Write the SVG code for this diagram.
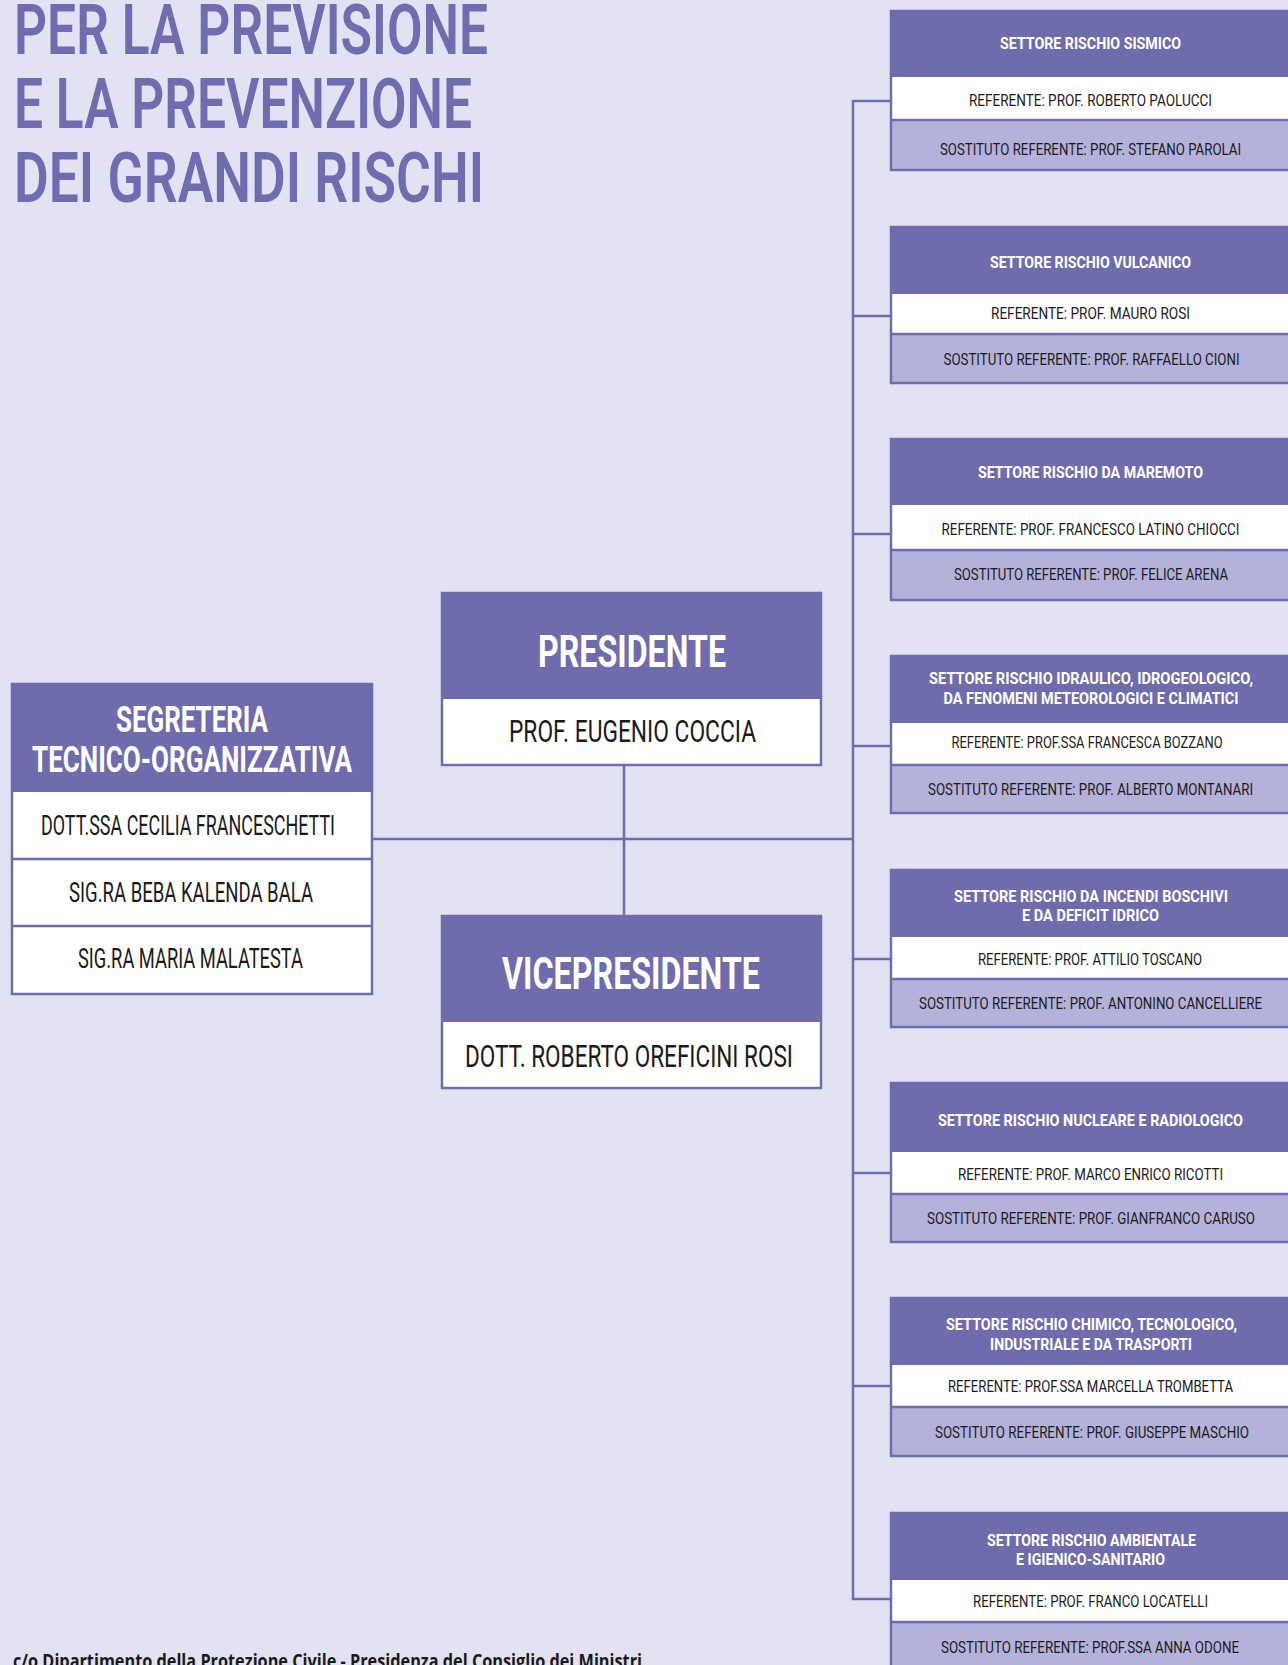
<svg xmlns="http://www.w3.org/2000/svg" width="1288" height="1665" viewBox="0 0 1288 1665">
<style>
.bg{fill:#e3e2f2}
.hdr{fill:#6f6cae}
.wr{fill:#ffffff}
.lr{fill:#b4b2db}
.ol{fill:none;stroke:#6f6cae;stroke-width:2.5}
.sep{stroke:#6f6cae;stroke-width:2.5}
.ln{fill:none;stroke:#6f6cae;stroke-width:2.5}
.title{font-family:Roboto,"Liberation Sans",sans-serif;font-weight:600;font-size:70px;fill:#706cb0}
.big{font-family:Roboto,"Liberation Sans",sans-serif;font-weight:700;fill:#ffffff}
.name{font-family:Roboto,"Liberation Sans",sans-serif;font-weight:400;fill:#1a1a1a}
.sh{font-family:Roboto,"Liberation Sans",sans-serif;font-weight:700;font-size:17px;fill:#ffffff;text-anchor:middle}
.sr{font-family:Roboto,"Liberation Sans",sans-serif;font-weight:400;font-size:16px;fill:#1a1a1a;text-anchor:middle}
.foot{font-family:"Open Sans","Liberation Sans",sans-serif;font-weight:700;font-size:20px;fill:#1a1a1a}
</style>
<rect class="bg" x="0" y="0" width="1288" height="1665"/>

<g id="title">
<text class="title" x="14" y="54" textLength="474" lengthAdjust="spacingAndGlyphs">PER LA PREVISIONE</text>
<text class="title" x="14" y="128" textLength="458" lengthAdjust="spacingAndGlyphs">E LA PREVENZIONE</text>
<text class="title" x="14" y="202" textLength="470" lengthAdjust="spacingAndGlyphs">DEI GRANDI RISCHI</text>
</g>

<g id="connectors">
<path class="ln" d="M372 839 H853"/>
<path class="ln" d="M624 765 V916"/>
<path class="ln" d="M891 101 H853 V1599 H891"/>
<path class="ln" d="M853 316 H891"/>
<path class="ln" d="M853 534 H891"/>
<path class="ln" d="M853 746 H891"/>
<path class="ln" d="M853 959 H891"/>
<path class="ln" d="M853 1173 H891"/>
<path class="ln" d="M853 1386 H891"/>
</g>

<g id="segreteria">
<rect class="hdr" x="12" y="684" width="360" height="108"/>
<rect class="wr" x="12" y="792" width="360" height="67"/>
<rect class="wr" x="12" y="859" width="360" height="67"/>
<rect class="wr" x="12" y="926" width="360" height="68"/>
<rect class="ol" x="12" y="684" width="360" height="310"/>
<line class="sep" x1="12" y1="859" x2="372" y2="859"/>
<line class="sep" x1="12" y1="926" x2="372" y2="926"/>
<text class="big" x="116" y="732" font-size="36" textLength="152" lengthAdjust="spacingAndGlyphs">SEGRETERIA</text>
<text class="big" x="32" y="772" font-size="36" textLength="320" lengthAdjust="spacingAndGlyphs">TECNICO-ORGANIZZATIVA</text>
<text class="name" x="41" y="835" font-size="27" textLength="294" lengthAdjust="spacingAndGlyphs">DOTT.SSA CECILIA FRANCESCHETTI</text>
<text class="name" x="69" y="902" font-size="27" textLength="244" lengthAdjust="spacingAndGlyphs">SIG.RA BEBA KALENDA BALA</text>
<text class="name" x="78" y="968" font-size="27" textLength="225" lengthAdjust="spacingAndGlyphs">SIG.RA MARIA MALATESTA</text>
</g>

<g id="presidente">
<rect class="hdr" x="442" y="593" width="379" height="106"/>
<rect class="wr" x="442" y="699" width="379" height="66"/>
<rect class="ol" x="442" y="593" width="379" height="172"/>
<text class="big" x="538" y="667" font-size="45" textLength="188" lengthAdjust="spacingAndGlyphs">PRESIDENTE</text>
<text class="name" x="509" y="742" font-size="31" textLength="247" lengthAdjust="spacingAndGlyphs">PROF. EUGENIO COCCIA</text>
</g>

<g id="vicepresidente">
<rect class="hdr" x="442" y="916" width="379" height="106"/>
<rect class="wr" x="442" y="1022" width="379" height="66"/>
<rect class="ol" x="442" y="916" width="379" height="172"/>
<text class="big" x="502" y="989" font-size="45" textLength="258" lengthAdjust="spacingAndGlyphs">VICEPRESIDENTE</text>
<text class="name" x="465" y="1067" font-size="31" textLength="328" lengthAdjust="spacingAndGlyphs">DOTT. ROBERTO OREFICINI ROSI</text>
</g>

<g id="settore-sismico">
<rect class="hdr" x="891" y="11" width="397" height="66"/>
<rect class="wr" x="891" y="77" width="397" height="43"/>
<rect class="lr" x="891" y="120" width="397" height="50"/>
<path class="ol" d="M1288 11 H891 V170 H1288"/>
<line class="sep" x1="891" y1="120" x2="1288" y2="120"/>
<text class="sh" x="1090.5" y="49" textLength="181" lengthAdjust="spacingAndGlyphs">SETTORE RISCHIO SISMICO</text>
<text class="sr" x="1090.5" y="106" textLength="243" lengthAdjust="spacingAndGlyphs">REFERENTE: PROF. ROBERTO PAOLUCCI</text>
<text class="sr" x="1090.5" y="155" textLength="301" lengthAdjust="spacingAndGlyphs">SOSTITUTO REFERENTE: PROF. STEFANO PAROLAI</text>
</g>

<g id="settore-vulcanico">
<rect class="hdr" x="891" y="227" width="397" height="67"/>
<rect class="wr" x="891" y="294" width="397" height="40"/>
<rect class="lr" x="891" y="334" width="397" height="49"/>
<path class="ol" d="M1288 227 H891 V383 H1288"/>
<line class="sep" x1="891" y1="334" x2="1288" y2="334"/>
<text class="sh" x="1090.5" y="268" textLength="201" lengthAdjust="spacingAndGlyphs">SETTORE RISCHIO VULCANICO</text>
<text class="sr" x="1090.5" y="319" textLength="199" lengthAdjust="spacingAndGlyphs">REFERENTE: PROF. MAURO ROSI</text>
<text class="sr" x="1091.5" y="365" textLength="296" lengthAdjust="spacingAndGlyphs">SOSTITUTO REFERENTE: PROF. RAFFAELLO CIONI</text>
</g>

<g id="settore-maremoto">
<rect class="hdr" x="891" y="439" width="397" height="66"/>
<rect class="wr" x="891" y="505" width="397" height="45"/>
<rect class="lr" x="891" y="550" width="397" height="50"/>
<path class="ol" d="M1288 439 H891 V600 H1288"/>
<line class="sep" x1="891" y1="550" x2="1288" y2="550"/>
<text class="sh" x="1090.5" y="478" textLength="225" lengthAdjust="spacingAndGlyphs">SETTORE RISCHIO DA MAREMOTO</text>
<text class="sr" x="1090.5" y="535" textLength="298" lengthAdjust="spacingAndGlyphs">REFERENTE: PROF. FRANCESCO LATINO CHIOCCI</text>
<text class="sr" x="1091" y="580" textLength="274" lengthAdjust="spacingAndGlyphs">SOSTITUTO REFERENTE: PROF. FELICE ARENA</text>
</g>

<g id="settore-idraulico">
<rect class="hdr" x="891" y="656" width="397" height="67"/>
<rect class="wr" x="891" y="723" width="397" height="42"/>
<rect class="lr" x="891" y="765" width="397" height="48"/>
<path class="ol" d="M1288 656 H891 V813 H1288"/>
<line class="sep" x1="891" y1="765" x2="1288" y2="765"/>
<text class="sh" x="1091" y="684" textLength="324" lengthAdjust="spacingAndGlyphs">SETTORE RISCHIO IDRAULICO, IDROGEOLOGICO,</text>
<text class="sh" x="1091" y="704" textLength="295" lengthAdjust="spacingAndGlyphs">DA FENOMENI METEOROLOGICI E CLIMATICI</text>
<text class="sr" x="1087" y="748" textLength="271" lengthAdjust="spacingAndGlyphs">REFERENTE: PROF.SSA FRANCESCA BOZZANO</text>
<text class="sr" x="1090.5" y="795" textLength="325" lengthAdjust="spacingAndGlyphs">SOSTITUTO REFERENTE: PROF. ALBERTO MONTANARI</text>
</g>

<g id="settore-incendi">
<rect class="hdr" x="891" y="870" width="397" height="67"/>
<rect class="wr" x="891" y="937" width="397" height="42"/>
<rect class="lr" x="891" y="979" width="397" height="48"/>
<path class="ol" d="M1288 870 H891 V1027 H1288"/>
<line class="sep" x1="891" y1="979" x2="1288" y2="979"/>
<text class="sh" x="1091" y="902" textLength="274" lengthAdjust="spacingAndGlyphs">SETTORE RISCHIO DA INCENDI BOSCHIVI</text>
<text class="sh" x="1090.5" y="921" textLength="137" lengthAdjust="spacingAndGlyphs">E DA DEFICIT IDRICO</text>
<text class="sr" x="1090" y="965" textLength="224" lengthAdjust="spacingAndGlyphs">REFERENTE: PROF. ATTILIO TOSCANO</text>
<text class="sr" x="1090.5" y="1009" textLength="343" lengthAdjust="spacingAndGlyphs">SOSTITUTO REFERENTE: PROF. ANTONINO CANCELLIERE</text>
</g>

<g id="settore-nucleare">
<rect class="hdr" x="891" y="1083" width="397" height="69"/>
<rect class="wr" x="891" y="1152" width="397" height="42"/>
<rect class="lr" x="891" y="1194" width="397" height="48"/>
<path class="ol" d="M1288 1083 H891 V1242 H1288"/>
<line class="sep" x1="891" y1="1194" x2="1288" y2="1194"/>
<text class="sh" x="1090.5" y="1126" textLength="305" lengthAdjust="spacingAndGlyphs">SETTORE RISCHIO NUCLEARE E RADIOLOGICO</text>
<text class="sr" x="1090.5" y="1180" textLength="265" lengthAdjust="spacingAndGlyphs">REFERENTE: PROF. MARCO ENRICO RICOTTI</text>
<text class="sr" x="1091" y="1224" textLength="328" lengthAdjust="spacingAndGlyphs">SOSTITUTO REFERENTE: PROF. GIANFRANCO CARUSO</text>
</g>

<g id="settore-chimico">
<rect class="hdr" x="891" y="1298" width="397" height="67"/>
<rect class="wr" x="891" y="1365" width="397" height="42"/>
<rect class="lr" x="891" y="1407" width="397" height="49"/>
<path class="ol" d="M1288 1298 H891 V1456 H1288"/>
<line class="sep" x1="891" y1="1407" x2="1288" y2="1407"/>
<text class="sh" x="1091.5" y="1330" textLength="291" lengthAdjust="spacingAndGlyphs">SETTORE RISCHIO CHIMICO, TECNOLOGICO,</text>
<text class="sh" x="1091" y="1350" textLength="202" lengthAdjust="spacingAndGlyphs">INDUSTRIALE E DA TRASPORTI</text>
<text class="sr" x="1090.5" y="1392" textLength="285" lengthAdjust="spacingAndGlyphs">REFERENTE: PROF.SSA MARCELLA TROMBETTA</text>
<text class="sr" x="1092" y="1438" textLength="314" lengthAdjust="spacingAndGlyphs">SOSTITUTO REFERENTE: PROF. GIUSEPPE MASCHIO</text>
</g>

<g id="settore-ambientale">
<rect class="hdr" x="891" y="1513" width="397" height="67"/>
<rect class="wr" x="891" y="1580" width="397" height="42"/>
<rect class="lr" x="891" y="1622" width="397" height="43"/>
<path class="ol" d="M1288 1513 H891 V1665"/>
<line class="sep" x1="891" y1="1622" x2="1288" y2="1622"/>
<text class="sh" x="1091.5" y="1546" textLength="209" lengthAdjust="spacingAndGlyphs">SETTORE RISCHIO AMBIENTALE</text>
<text class="sh" x="1090.5" y="1565" textLength="149" lengthAdjust="spacingAndGlyphs">E IGIENICO-SANITARIO</text>
<text class="sr" x="1090.5" y="1607" textLength="235" lengthAdjust="spacingAndGlyphs">REFERENTE: PROF. FRANCO LOCATELLI</text>
<text class="sr" x="1090" y="1653" textLength="298" lengthAdjust="spacingAndGlyphs">SOSTITUTO REFERENTE: PROF.SSA ANNA ODONE</text>
</g>

<g id="footer">
<text class="foot" x="13" y="1668" textLength="629" lengthAdjust="spacingAndGlyphs">c/o Dipartimento della Protezione Civile - Presidenza del Consiglio dei Ministri</text>
</g>
</svg>
